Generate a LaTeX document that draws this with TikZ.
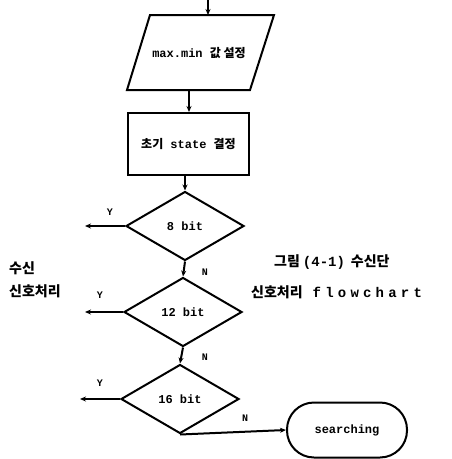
\documentclass[tikz,border=0pt]{standalone}
\usepackage{fontspec}
\usetikzlibrary{shapes.geometric,arrows.meta}
\newfontfamily\cjk{Noto Sans CJK KR}
\setmonofont{Liberation Mono}
\newfontfamily\spacedmono{Liberation Mono}[LetterSpace=30]
\newcommand\kr[1]{{\cjk\bfseries #1}}
\tikzset{
  line/.style={line width=2pt},
  arr/.style={line, -{Stealth[length=6pt,width=5pt]}},
  inbox/.style={font=\ttfamily\bfseries\fontsize{12}{14}\selectfont},
  dec/.style={diamond, draw, line width=2pt, minimum width=118pt, minimum height=69pt, inner sep=0pt, inbox},
  proc/.style={rectangle, draw, line width=2pt, minimum width=121pt, minimum height=62pt, inbox},
  term/.style={rectangle, rounded corners=27pt, draw, line width=2pt, minimum width=120pt, minimum height=55pt, inbox},
  lbl/.style={font=\ttfamily\bfseries\fontsize{10}{11}\selectfont, inner sep=0pt},
  captext/.style={font=\cjk\bfseries\fontsize{14}{16}\selectfont, inner sep=0pt, anchor=west}
}
\begin{document}
\begin{tikzpicture}[x=1pt,y=-1pt]
\useasboundingbox (0,0) rectangle (451,459);
% parallelogram
\coordinate (pTL) at (150,15);
\coordinate (pTR) at (274,15);
\coordinate (pBR) at (250,90);
\coordinate (pBL) at (127,90);
\draw[line, line join=miter] (pTL) -- (pTR) -- (pBR) -- (pBL) -- cycle;
\node[inbox] (ptext) at (199,53) {max.min \kr{값 설정}};
\coordinate (start) at (208,0);
\coordinate (ptop) at (208,15);
\coordinate (pbot) at (189,90);
% process
\node[proc] (init) at (188.5,144) {\kr{초기} state \kr{결정}};
% decisions
\node[dec] (d1) at (185,226) {8 bit};
\node[dec] (d2) at (183,312) {12 bit};
\node[dec] (d3) at (180,399) {16 bit};
\node[term] (srch) at (347,430) {searching};
% ends of Y branches
\coordinate (y1) at (85,226);
\coordinate (y2) at (85,312);
\coordinate (y3) at (80,399);
% connectors
\draw[arr] (start) -- (ptop);
\draw[arr] (pbot) -- (pbot |- init.north);
\draw[arr] (init.south -| d1.north) -- (d1.north);
\draw[arr] (d1.west) -- (y1);
\draw[arr] (d1.south) -- (d2.north);
\draw[arr] (d2.west) -- (y2);
\draw[arr] (d2.south) -- (d3.north);
\draw[arr] (d3.west) -- (y3);
\draw[arr] (d3.south) -- (srch.west);
% labels
\node[lbl] (ly1) at (110,212) {Y};
\node[lbl] (ln1) at (205,272) {N};
\node[lbl] (ly2) at (100,295) {Y};
\node[lbl] (ln2) at (205,357) {N};
\node[lbl] (ly3) at (100,383) {Y};
\node[lbl] (ln3) at (245,418) {N};
% side texts
\node[captext] (s1) at (9,268) {수신};
\node[captext] (s2) at (9,291) {신호처리};
\node[captext] (c1) at (274,262) {그림\hspace{3pt}{\ttfamily\bfseries (4-1)}\hspace{6pt}수신단};
\node[captext] (c2) at (251,292) {신호처리\hspace{10pt}{\spacedmono\bfseries\fontsize{14}{16}\selectfont flowchart}};
\end{tikzpicture}
\end{document}
